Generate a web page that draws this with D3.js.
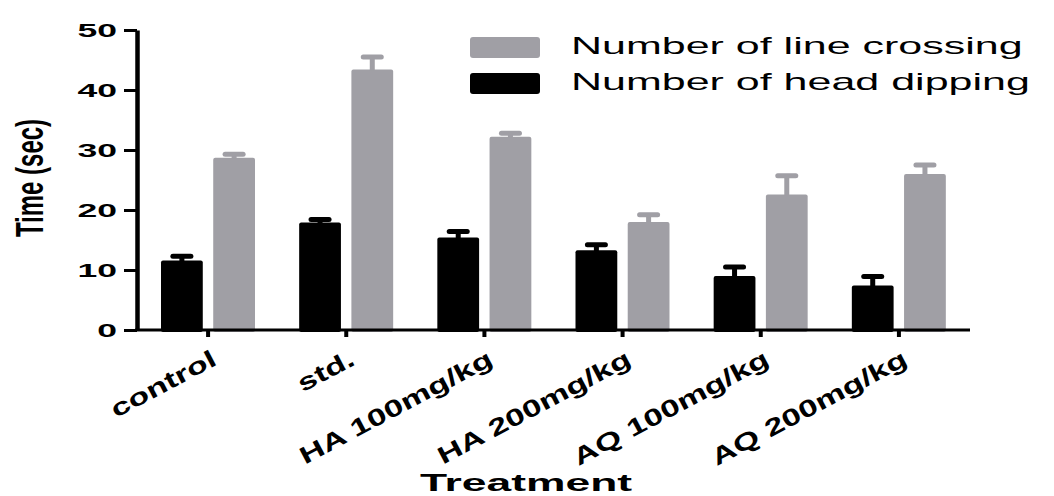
<!DOCTYPE html>
<html>
<head>
<meta charset="utf-8">
<script src="https://cdn.jsdelivr.net/npm/d3@7"></script>
<style>
  body { margin: 0; background: #fff; }
  text { font-family: "Liberation Sans", Arial, sans-serif; fill: #000; }
  .tick text { font-weight: bold; }
</style>
</head>
<body>
<div id="viz"></div>
<script>
// chart values
const categories = ["control", "std.", "HA 100mg/kg", "HA 200mg/kg", "AQ 100mg/kg", "AQ 200mg/kg"];
const headDipping = [11.6, 17.9, 15.4, 13.3, 9.0, 7.4];
const headDippingErr = [0.7, 0.5, 1.0, 0.9, 1.5, 1.5];
const lineCrossing = [28.7, 43.4, 32.2, 18.0, 22.6, 26.0];
const lineCrossingErr = [0.6, 2.1, 0.6, 1.2, 3.1, 1.5];
const yTicks = [0, 10, 20, 30, 40, 50];
const seriesNames = ["Number of line crossing", "Number of head dipping"];

const W = 1054, H = 496;
const SX = 1.87; // the original picture is stretched sideways, text too
const GREY = "#a09fa5";

const svg = d3.select("#viz").append("svg")
    .attr("width", W).attr("height", H);

const y = d3.scaleLinear().domain([0, 50]).range([330, 30]);
const x = d3.scaleBand().domain(categories).range([139, 968]).padding(0);
const xSub = d3.scaleBand().domain(["dip", "cross"]).range([22, 116]).paddingInner(0.2);

const rows = categories.map((c, i) => ({
    cat: c,
    bars: [
        { key: "dip", v: headDipping[i], e: headDippingErr[i], fill: "#000" },
        { key: "cross", v: lineCrossing[i], e: lineCrossingErr[i], fill: GREY }
    ]
}));

// bars + error bars
const groups = svg.append("g").selectAll("g").data(rows).join("g")
    .attr("transform", d => `translate(${x(d.cat)},0)`);

const bar = groups.selectAll("g").data(d => d.bars).join("g");
bar.append("rect")
    .attr("x", d => xSub(d.key))
    .attr("width", xSub.bandwidth())
    .attr("y", d => y(d.v))
    .attr("height", d => y(0) - y(d.v) + 2)
    .attr("rx", 2)
    .attr("fill", d => d.fill);
bar.append("rect")
    .attr("x", d => xSub(d.key) + xSub.bandwidth() / 2 - 2.5)
    .attr("width", 5)
    .attr("y", d => y(d.v + d.e))
    .attr("height", d => y(d.v) - y(d.v + d.e) + 1)
    .attr("fill", d => d.fill);
bar.append("line")
    .attr("x1", d => xSub(d.key) + xSub.bandwidth() / 2 - 9)
    .attr("x2", d => xSub(d.key) + xSub.bandwidth() / 2 + 9)
    .attr("y1", d => y(d.v + d.e))
    .attr("y2", d => y(d.v + d.e))
    .attr("stroke", d => d.fill)
    .attr("stroke-width", 5)
    .attr("stroke-linecap", "round");

// y axis
const yAxis = svg.append("g").attr("transform", "translate(137,0)")
    .call(d3.axisLeft(y).tickValues(yTicks).tickSize(13).tickSizeOuter(0));
yAxis.select(".domain").attr("stroke", "#000").attr("stroke-width", 4.5);
yAxis.selectAll(".tick line").attr("stroke", "#000").attr("stroke-width", 3);
yAxis.selectAll(".tick text")
    .attr("x", 0).attr("dy", "0.36em")
    .attr("transform", `translate(-20,0) scale(${SX},1)`)
    .style("font-size", "19px");

// x axis
const xAxis = svg.append("g").attr("transform", `translate(0,${y(0)})`)
    .call(d3.axisBottom(x).tickSize(7).tickSizeOuter(0));
xAxis.select(".domain").remove();
xAxis.append("line")
    .attr("x1", 135).attr("x2", x.range()[1] + 2)
    .attr("stroke", "#000").attr("stroke-width", 3);
xAxis.selectAll(".tick line").attr("stroke", "#000").attr("stroke-width", 4);
xAxis.selectAll(".tick text")
    .attr("x", 0).attr("y", 0).attr("dy", 0)
    .attr("text-anchor", "end")
    .attr("transform", "translate(10,34) rotate(-28) scale(1.42,1)")
    .style("font-size", "24px");

// axis titles
svg.append("text")
    .attr("transform", `translate(43,178) scale(1.6,1) rotate(-90)`)
    .attr("text-anchor", "middle")
    .style("font-size", "24px").style("font-weight", "bold")
    .text("Time (sec)");
svg.append("text")
    .attr("transform", `translate(526,491) scale(1.85,1)`)
    .attr("text-anchor", "middle")
    .style("font-size", "24px").style("font-weight", "bold")
    .text("Treatment");

// legend
const legend = svg.append("g").attr("transform", "translate(470,37)");
const leg = legend.selectAll("g").data(seriesNames).join("g")
    .attr("transform", (d, i) => `translate(0,${i * 36})`);
leg.append("rect")
    .attr("width", 70).attr("height", 21).attr("rx", 3)
    .attr("fill", (d, i) => i === 0 ? GREY : "#000");
leg.append("text")
    .attr("transform", `translate(101,17) scale(${SX},1)`)
    .style("font-size", "23px")
    .text(d => d);
</script>
</body>
</html>
